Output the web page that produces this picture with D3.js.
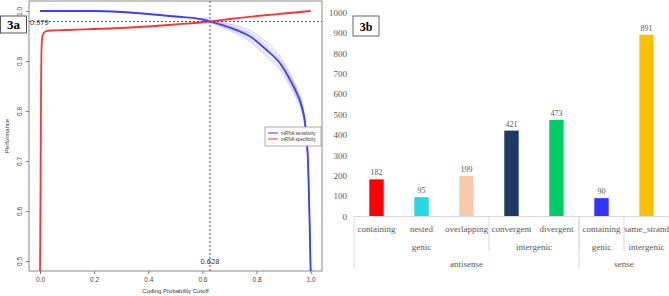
<!DOCTYPE html>
<html>
<head>
<meta charset="utf-8">
<script src="https://cdn.jsdelivr.net/npm/d3@7"></script>
<style>
  body { margin: 0; background: #fff; }
  svg { display: block; }
</style>
</head>
<body>
<div id="chart"></div>
<script>
// ---- panel 3a data ----
const sensCutoffs = [0, 0.1, 0.2, 0.3, 0.4, 0.5, 0.6, 0.628, 0.7, 0.776, 0.837, 0.887, 0.924, 0.948, 0.967, 0.979, 0.985, 0.99, 0.995, 1.0];
const sensitivity = [1.0, 1.0, 1.0, 0.998, 0.994, 0.989, 0.983, 0.979, 0.967, 0.949, 0.922, 0.895, 0.862, 0.836, 0.809, 0.776, 0.742, 0.7, 0.6, 0.475];

const foldCutoffs = [0.6, 0.628, 0.7, 0.776, 0.837, 0.887, 0.924, 0.948, 0.967, 0.979, 0.985, 0.99, 1.0];
const foldA = [0.985, 0.982, 0.974, 0.961, 0.937, 0.909, 0.874, 0.846, 0.818, 0.785, 0.752, 0.71, 0.48];
const foldB = [0.981, 0.977, 0.961, 0.939, 0.909, 0.882, 0.850, 0.825, 0.799, 0.767, 0.733, 0.69, 0.47];
const foldC = [0.984, 0.981, 0.971, 0.956, 0.931, 0.903, 0.869, 0.842, 0.814, 0.781, 0.748, 0.705, 0.48];
const foldD = [0.982, 0.978, 0.964, 0.943, 0.914, 0.887, 0.855, 0.829, 0.803, 0.771, 0.737, 0.695, 0.47];
const foldE = [0.983, 0.980, 0.969, 0.953, 0.927, 0.899, 0.866, 0.840, 0.812, 0.779, 0.745, 0.70, 0.475];

const specCutoffs = [0, 0.002, 0.004, 0.006, 0.01, 0.02, 0.04, 0.1, 0.2, 0.3, 0.4, 0.5, 0.628, 0.7, 0.8, 0.9, 1.0];
const specificity = [0.476, 0.65, 0.85, 0.93, 0.952, 0.959, 0.961, 0.962, 0.964, 0.966, 0.969, 0.973, 0.979, 0.984, 0.99, 0.995, 1.0];

const xTicks = [0, 0.2, 0.4, 0.6, 0.8, 1.0];
const yTicks = [0.5, 0.6, 0.7, 0.8, 0.9, 1.0];
const bestCutoff = 0.628;
const bestPerf = 0.979;

// ---- panel 3b data ----
const categories = ["containing", "nested", "overlapping", "convergent", "divergent", "containing", "same_strand"];
const subGroups = ["genic", "genic", "genic", "intergenic", "intergenic", "genic", "intergenic"];
const groups = ["antisense", "antisense", "antisense", "antisense", "antisense", "sense", "sense"];
const counts = [182, 95, 199, 421, 473, 90, 891];
const barColors = ["#ff0000", "#25d8e3", "#f8cbad", "#1f3864", "#00cc66", "#3333ff", "#ffc000"];
const countTicks = [0, 100, 200, 300, 400, 500, 600, 700, 800, 900, 1000];

const svg = d3.select("#chart").append("svg")
  .attr("width", 669).attr("height", 296);

// ================= panel 3a =================
const sans = "Liberation Sans, Arial, sans-serif";
const box = { left: 29, right: 322, top: 1, bottom: 271 };
const x = d3.scaleLinear().domain([0, 1]).range([40, 310.7]);
const y = d3.scaleLinear().domain([0.5, 1.0]).range([261, 11]);

svg.append("defs").append("clipPath").attr("id", "clipA")
  .append("rect")
  .attr("x", box.left).attr("y", box.top)
  .attr("width", box.right - box.left).attr("height", box.bottom - box.top);

const gA = svg.append("g");

// y axis
const yAxis = gA.append("g")
  .attr("transform", `translate(${box.left},0)`)
  .call(d3.axisLeft(y).tickValues(yTicks).tickFormat(d3.format(".1f")).tickSize(3));
yAxis.select(".domain").remove();
yAxis.selectAll("line").attr("stroke", "#777");
yAxis.selectAll("text")
  .attr("font-family", sans)
  .attr("font-size", 6.5).attr("fill", "#444")
  .attr("transform", "rotate(-90)")
  .attr("x", 0).attr("dy", 0).attr("y", -7)
  .attr("text-anchor", "middle");

// x axis
const xAxis = gA.append("g")
  .attr("transform", `translate(0,${box.bottom})`)
  .call(d3.axisBottom(x).tickValues(xTicks).tickFormat(d3.format(".1f")).tickSize(3));
xAxis.select(".domain").remove();
xAxis.selectAll("line").attr("stroke", "#777");
xAxis.selectAll("text")
  .attr("font-family", sans)
  .attr("font-size", 6.5).attr("fill", "#444").attr("y", 6);

// plot box
gA.append("rect")
  .attr("x", box.left).attr("y", box.top)
  .attr("width", box.right - box.left).attr("height", box.bottom - box.top)
  .attr("fill", "none").attr("stroke", "#8a8a8a").attr("stroke-width", 1);

// axis titles
gA.append("text")
  .attr("x", (box.left + box.right) / 2).attr("y", 293)
  .attr("text-anchor", "middle")
  .attr("font-family", sans)
  .attr("font-size", 6).attr("fill", "#333")
  .text("Coding Probability Cutoff");
gA.append("text")
  .attr("transform", `translate(9,${(box.top + box.bottom) / 2}) rotate(-90)`)
  .attr("text-anchor", "middle")
  .attr("font-family", sans)
  .attr("font-size", 6).attr("fill", "#333")
  .text("Performance");

// curves
const plotArea = gA.append("g").attr("clip-path", "url(#clipA)");
const line = d3.line().curve(d3.curveMonotoneX)
  .x((d) => x(d[0])).y((d) => y(d[1]));

[foldA, foldB, foldC, foldD, foldE].forEach((f) => {
  plotArea.append("path")
    .attr("d", line(d3.zip(foldCutoffs, f)))
    .attr("fill", "none").attr("stroke", "#8080ff")
    .attr("stroke-opacity", 0.45).attr("stroke-width", 1);
});

plotArea.append("path")
  .attr("d", line(d3.zip(sensCutoffs, sensitivity)))
  .attr("fill", "none").attr("stroke", "#3d3dff").attr("stroke-width", 1.8);
plotArea.append("path")
  .attr("d", line(d3.zip(specCutoffs, specificity)))
  .attr("fill", "none").attr("stroke", "#ff3535").attr("stroke-width", 1.8);

// reference dashed lines
gA.append("line")
  .attr("x1", box.left).attr("x2", box.right)
  .attr("y1", y(bestPerf)).attr("y2", y(bestPerf))
  .attr("stroke", "#555").attr("stroke-dasharray", "2,2");
gA.append("line")
  .attr("x1", x(bestCutoff)).attr("x2", x(bestCutoff))
  .attr("y1", box.top).attr("y2", box.bottom)
  .attr("stroke", "#555").attr("stroke-dasharray", "2,2");
gA.append("text")
  .attr("x", 30).attr("y", y(bestPerf) + 3)
  .attr("font-family", sans)
  .attr("font-size", 7.5).attr("fill", "#333")
  .text(bestPerf.toFixed(3));
gA.append("text")
  .attr("x", x(bestCutoff)).attr("y", y(0.5) + 3)
  .attr("text-anchor", "middle")
  .attr("font-family", sans)
  .attr("font-size", 7.5).attr("fill", "#333")
  .text(bestCutoff.toFixed(3));

// legend
const leg = gA.append("g").attr("transform", "translate(265,127)");
leg.append("rect").attr("width", 56).attr("height", 19)
  .attr("fill", "#fff").attr("stroke", "#999").attr("stroke-width", 0.8);
[["mRNA sensitivity", "#3d3dff"], ["mRNA specificity", "#ff3535"]].forEach((e, i) => {
  leg.append("line")
    .attr("x1", 3).attr("x2", 13).attr("y1", 6 + i * 6).attr("y2", 6 + i * 6)
    .attr("stroke", e[1]).attr("stroke-width", 1);
  leg.append("text")
    .attr("x", 16).attr("y", 7.7 + i * 6)
    .attr("font-family", sans)
    .attr("font-size", 4.6).attr("fill", "#333")
    .text(e[0]);
});

// "3a" tag
gA.append("rect").attr("x", 0.5).attr("y", 16).attr("width", 26).attr("height", 17)
  .attr("fill", "#fff").attr("stroke", "#555");
gA.append("text").attr("x", 13.5).attr("y", 29)
  .attr("text-anchor", "middle")
  .attr("font-family", "Liberation Serif, Times New Roman, serif")
  .attr("font-weight", "bold").attr("font-size", 13)
  .text("3a");

// ================= panel 3b =================
const serif = "Liberation Serif, Times New Roman, serif";
const labGrey = "#595959";
const xb = d3.scaleBand().domain(d3.range(categories.length)).range([354, 669]).paddingInner(0.68).paddingOuter(0.34);
const yb = d3.scaleLinear().domain([0, 1000]).range([216.5, 12.5]);

const gB = svg.append("g");

const ybAxis = gB.append("g")
  .attr("transform", "translate(350,0)")
  .call(d3.axisLeft(yb).tickValues(countTicks).tickFormat(d3.format("d")).tickSize(0));
ybAxis.select(".domain").remove();
ybAxis.selectAll("text")
  .attr("font-family", serif).attr("font-size", 9).attr("fill", labGrey)
  .attr("x", -3);

// bars
gB.selectAll("rect.bar").data(counts).join("rect")
  .attr("class", "bar")
  .attr("x", (d, i) => xb(i))
  .attr("y", (d) => yb(d))
  .attr("width", xb.bandwidth())
  .attr("height", (d) => yb(0) - yb(d))
  .attr("fill", (d, i) => barColors[i]);

gB.selectAll("text.val").data(counts).join("text")
  .attr("class", "val")
  .attr("x", (d, i) => xb(i) + xb.bandwidth() / 2)
  .attr("y", (d) => yb(d) - 4)
  .attr("text-anchor", "middle")
  .attr("font-family", serif).attr("font-size", 8).attr("fill", labGrey)
  .text((d) => d);

// category axis (multi-level)
const step = xb.step();
const left0 = xb(0) - xb.paddingOuter() * step;
const edge = (i) => left0 + i * step;
gB.append("line")
  .attr("x1", edge(0) - 1).attr("x2", edge(categories.length))
  .attr("y1", yb(0)).attr("y2", yb(0))
  .attr("stroke", "#d9d9d9");

gB.selectAll("text.cat").data(categories).join("text")
  .attr("class", "cat")
  .attr("x", (d, i) => xb(i) + xb.bandwidth() / 2)
  .attr("y", 232)
  .attr("text-anchor", "middle")
  .attr("font-family", serif).attr("font-size", 9).attr("fill", labGrey)
  .text((d) => d);

// build runs of equal labels for the outer levels
const runs = (keys) => {
  const out = [];
  keys.forEach((k, i) => {
    const last = out[out.length - 1];
    if (last && last.key === k) last.end = i;
    else out.push({ key: k, start: i, end: i });
  });
  return out;
};
const subRuns = runs(subGroups.map((s, i) => groups[i] + "|" + s));
const groupRuns = runs(groups);

subRuns.forEach((r) => {
  gB.append("text")
    .attr("x", (edge(r.start) + edge(r.end + 1)) / 2)
    .attr("y", 250)
    .attr("text-anchor", "middle")
    .attr("font-family", serif).attr("font-size", 9).attr("fill", labGrey)
    .text(r.key.split("|")[1]);
  if (r.start > 0) {
    gB.append("line")
      .attr("x1", edge(r.start)).attr("x2", edge(r.start))
      .attr("y1", yb(0)).attr("y2", 251)
      .attr("stroke", "#d9d9d9");
  }
});
groupRuns.forEach((r) => {
  gB.append("text")
    .attr("x", (edge(r.start) + edge(r.end + 1)) / 2)
    .attr("y", 267)
    .attr("text-anchor", "middle")
    .attr("font-family", serif).attr("font-size", 9).attr("fill", labGrey)
    .text(r.key);
  gB.append("line")
    .attr("x1", edge(r.start)).attr("x2", edge(r.start))
    .attr("y1", yb(0)).attr("y2", 268)
    .attr("stroke", "#d9d9d9");
});

// "3b" tag
gB.append("rect").attr("x", 353).attr("y", 16).attr("width", 26).attr("height", 20)
  .attr("fill", "#fff").attr("stroke", "#666");
gB.append("text").attr("x", 366).attr("y", 30.5)
  .attr("text-anchor", "middle")
  .attr("font-family", serif)
  .attr("font-weight", "bold").attr("font-size", 12)
  .text("3b");
</script>
</body>
</html>
